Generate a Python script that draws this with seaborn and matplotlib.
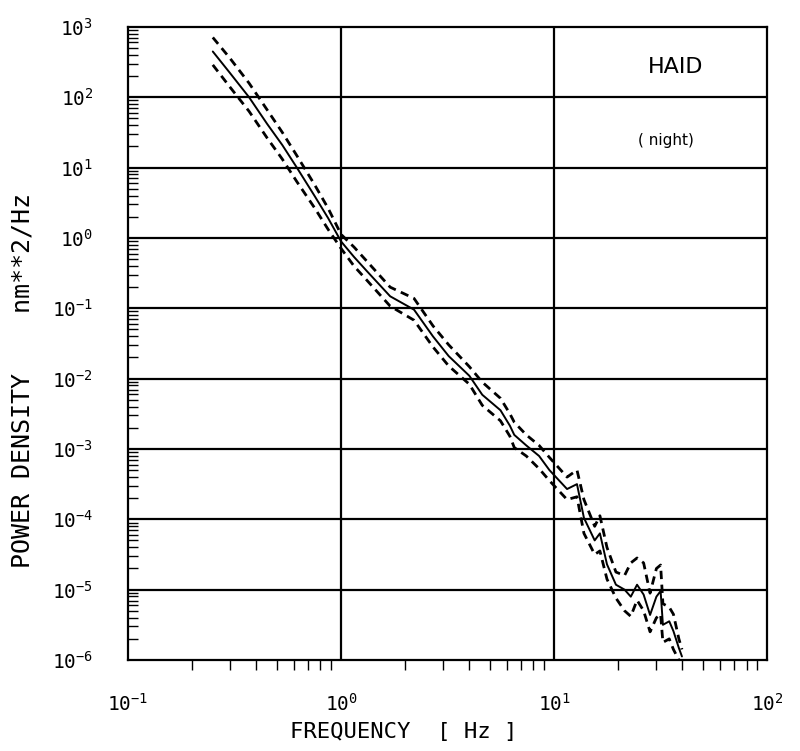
import numpy as np
import pandas as pd
import matplotlib
matplotlib.use("Agg")
import matplotlib.pyplot as plt
import seaborn as sns
from matplotlib.ticker import LogLocator, LogFormatterMathtext, NullFormatter

# ---- data ----
freq = [0.25, 0.30, 0.37, 0.45, 0.53, 0.62, 0.75, 0.87, 1.0, 1.15, 1.32, 1.7,
        2.2, 2.7, 3.2, 4.0, 4.6, 5.6, 6.2, 6.5, 7.4, 8.5, 9.5, 11.5, 12.8, 13.8,
        15.5, 16.4, 17.7, 19.5, 21.4, 22.9, 24.5, 26.3, 28.2, 30.2, 31.6, 32.4,
        34.7, 36.3, 38.5, 39.8]
log_mean = [2.65, 2.35, 2.0, 1.62, 1.32, 1.0, 0.6, 0.28, -0.05, -0.27, -0.47, -0.83,
            -1.02, -1.4, -1.68, -1.96, -2.23, -2.45, -2.67, -2.8, -2.95, -3.1, -3.3,
            -3.57, -3.5, -3.98, -4.3, -4.2, -4.64, -4.93, -5.0, -5.1, -4.93, -5.07,
            -5.36, -5.1, -5.02, -5.5, -5.45, -5.59, -5.83, -5.95]
log_upper = [2.85, 2.56, 2.2, 1.82, 1.5, 1.17, 0.76, 0.42, 0.05, -0.13, -0.33, -0.7,
             -0.86, -1.25, -1.52, -1.83, -2.05, -2.28, -2.5, -2.62, -2.8, -2.95, -3.12,
             -3.4, -3.3, -3.72, -4.1, -3.95, -4.4, -4.75, -4.8, -4.62, -4.55, -4.62,
             -5.05, -4.7, -4.65, -5.2, -5.25, -5.35, -5.7, -5.85]
log_lower = [2.46, 2.15, 1.8, 1.42, 1.12, 0.8, 0.43, 0.12, -0.15, -0.4, -0.6, -0.97,
             -1.17, -1.55, -1.82, -2.08, -2.38, -2.6, -2.82, -2.98, -3.1, -3.28, -3.45,
             -3.72, -3.68, -4.2, -4.5, -4.45, -4.85, -5.12, -5.3, -5.38, -5.15, -5.3,
             -5.6, -5.4, -5.35, -5.75, -5.7, -5.85, -6.0, -6.05]

xticks = [0.1, 1, 10, 100]
yticks = [1e-6, 1e-5, 1e-4, 1e-3, 1e-2, 1e-1, 1e0, 1e1, 1e2, 1e3]

df = pd.DataFrame({
    "freq": freq,
    "mean": np.power(10.0, log_mean),
    "upper": np.power(10.0, log_upper),
    "lower": np.power(10.0, log_lower),
})

sns.set_style("white")
plt.rcParams["font.family"] = ["DejaVu Sans Mono", "DejaVu Sans"]
plt.rcParams["text.color"] = "black"
plt.rcParams["axes.labelcolor"] = "black"
plt.rcParams["xtick.color"] = "black"
plt.rcParams["ytick.color"] = "black"
plt.rcParams["mathtext.fontset"] = "dejavusans"

fig = plt.figure(figsize=(8.0, 7.51), dpi=100)
ax = fig.add_axes([0.16, 0.1212, 0.799, 0.843])

sns.lineplot(data=df, x="freq", y="mean", ax=ax, color="black", lw=1.4,
             estimator=None, sort=False)
for col in ["upper", "lower"]:
    sns.lineplot(data=df, x="freq", y=col, ax=ax, color="black", lw=2.0,
                 estimator=None, sort=False, linestyle=(0, (3, 2)))

ax.set_xscale("log")
ax.set_yscale("log")
ax.set_xlim(0.1, 100)
ax.set_ylim(1e-6, 1e3)

ax.set_xticks(xticks)
ax.set_yticks(yticks)
ax.xaxis.set_major_formatter(LogFormatterMathtext())
ax.yaxis.set_major_formatter(LogFormatterMathtext())
ax.xaxis.set_minor_locator(LogLocator(base=10, subs=np.arange(2, 10), numticks=20))
ax.yaxis.set_minor_locator(LogLocator(base=10, subs=np.arange(2, 10), numticks=20))
ax.xaxis.set_minor_formatter(NullFormatter())
ax.yaxis.set_minor_formatter(NullFormatter())

for y in yticks[1:-1]:
    ax.axhline(y, color="black", lw=1.6, zorder=1)
for x in [1, 10]:
    ax.axvline(x, color="black", lw=1.6, zorder=1)

for s in ax.spines.values():
    s.set_color("black")
    s.set_linewidth(1.6)

ax.tick_params(axis="y", which="major", direction="out", length=18, width=1.4,
               labelsize=14, pad=7)
ax.tick_params(axis="y", which="minor", direction="in", length=7, width=1.0,
               left=True)
ax.tick_params(axis="x", which="major", direction="out", length=13, width=1.4,
               labelsize=14, pad=11)
ax.tick_params(axis="x", which="minor", direction="out", length=7, width=1.0,
               bottom=True)

ax.set_xlabel("FREQUENCY  [ Hz ]", fontsize=16)
ax.xaxis.set_label_coords(0.432, -0.098)
ax.set_ylabel("POWER DENSITY    nm**2/Hz", fontsize=18)
ax.yaxis.set_label_coords(-0.146, 0.442)

ax.text(0.856, 0.937, "HAID", transform=ax.transAxes, fontsize=16,
        ha="center", va="center", family="DejaVu Sans")
ax.text(0.842, 0.821, "( night)", transform=ax.transAxes, fontsize=11,
        ha="center", va="center", family="DejaVu Sans")

fig.savefig("out.png", dpi=100, facecolor="white")
